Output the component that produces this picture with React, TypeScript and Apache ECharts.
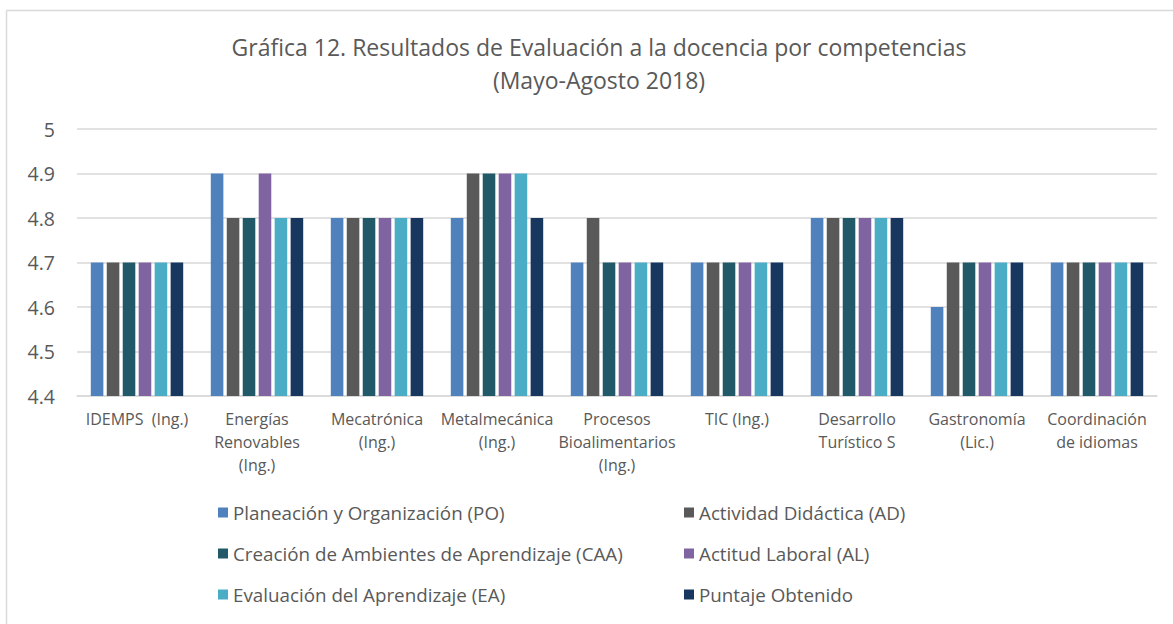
import React, { useEffect, useRef } from "react";
import * as echarts from "echarts";

const categories = [
  "IDEMPS  (Ing.)",
  "Energías\nRenovables\n(Ing.)",
  "Mecatrónica\n(Ing.)",
  "Metalmecánica\n(Ing.)",
  "Procesos\nBioalimentarios\n(Ing.)",
  "TIC (Ing.)",
  "Desarrollo\nTurístico S",
  "Gastronomía\n(Lic.)",
  "Coordinación\nde idiomas",
];

const seriesNames = [
  "Planeación y Organización (PO)",
  "Actividad Didáctica (AD)",
  "Creación de Ambientes de Aprendizaje (CAA)",
  "Actitud Laboral (AL)",
  "Evaluación del Aprendizaje (EA)",
  "Puntaje Obtenido",
];

const poValues = [4.7, 4.9, 4.8, 4.8, 4.7, 4.7, 4.8, 4.6, 4.7];
const adValues = [4.7, 4.8, 4.8, 4.9, 4.8, 4.7, 4.8, 4.7, 4.7];
const caaValues = [4.7, 4.8, 4.8, 4.9, 4.7, 4.7, 4.8, 4.7, 4.7];
const alValues = [4.7, 4.9, 4.8, 4.9, 4.7, 4.7, 4.8, 4.7, 4.7];
const eaValues = [4.7, 4.8, 4.8, 4.9, 4.7, 4.7, 4.8, 4.7, 4.7];
const puntajeValues = [4.7, 4.8, 4.8, 4.8, 4.7, 4.7, 4.8, 4.7, 4.7];

const seriesValues = [poValues, adValues, caaValues, alValues, eaValues, puntajeValues];
const colors = ["#4F81BD", "#595959", "#215968", "#8064A2", "#4BACC6", "#17375E"];

const FONT = "Open Sans";
const TEXT = "#595959";

export default function App() {
  const ref = useRef<HTMLDivElement>(null);
  useEffect(() => {
    if (!ref.current) return;
    const chart = echarts.init(ref.current, null, { renderer: "svg" });
    const legendText = { color: TEXT, fontSize: 18.8, fontFamily: FONT, lineHeight: 21 };
    const legendBase = {
      orient: "vertical",
      top: 497,
      itemWidth: 10,
      itemHeight: 10,
      itemGap: 20,
      icon: "rect",
      textStyle: legendText,
    };
    chart.setOption({
      animation: false,
      backgroundColor: "#ffffff",
      color: colors,
      title: {
        text: "Gráfica 12. Resultados de Evaluación a la docencia por competencias\n(Mayo-Agosto 2018)",
        left: 594,
        textAlign: "center",
        top: 25,
        textStyle: {
          color: TEXT,
          fontSize: 23,
          fontWeight: "normal",
          fontFamily: FONT,
          lineHeight: 33,
          align: "center",
        },
      },
      graphic: [
        { type: "line", shape: { x1: 6.5, y1: 10.5, x2: 1173, y2: 10.5 }, style: { stroke: "#d9d9d9", lineWidth: 1.5 } },
        { type: "line", shape: { x1: 6.5, y1: 10.5, x2: 6.5, y2: 624 }, style: { stroke: "#d9d9d9", lineWidth: 1.5 } },
      ],
      legend: [
        { ...legendBase, data: [seriesNames[0], seriesNames[2], seriesNames[4]], left: 213 },
        { ...legendBase, data: [seriesNames[1], seriesNames[3], seriesNames[5]], left: 679 },
      ],
      grid: { left: 77, right: 16, top: 129, bottom: 228, containLabel: false },
      xAxis: {
        type: "category",
        data: categories,
        axisLine: { lineStyle: { color: "#d9d9d9", width: 1.5 } },
        axisTick: { show: false },
        axisLabel: {
          color: TEXT,
          fontSize: 16,
          fontFamily: FONT,
          lineHeight: 23,
          interval: 0,
          margin: 11,
          verticalAlign: "top",
        },
      },
      yAxis: {
        type: "value",
        min: 4.4,
        max: 5,
        interval: 0.1,
        axisLine: { show: false },
        axisTick: { show: false },
        splitLine: { lineStyle: { color: "#d9d9d9", width: 1.5 } },
        axisLabel: {
          color: TEXT,
          fontSize: 19.5,
          fontFamily: FONT,
          margin: 22,
          formatter: (v: number) => String(Math.round(v * 10) / 10),
        },
      },
      series: seriesNames.map((name, i) => ({
        name,
        type: "bar",
        data: seriesValues[i],
        barGap: "27%",
        barCategoryGap: "23%",
        itemStyle: { color: colors[i] },
      })),
    });
    return () => chart.dispose();
  }, []);
  return (
    <div
      ref={ref}
      style={{ position: "fixed", left: 0, top: 0, width: 1173, height: 624 }}
    />
  );
}
